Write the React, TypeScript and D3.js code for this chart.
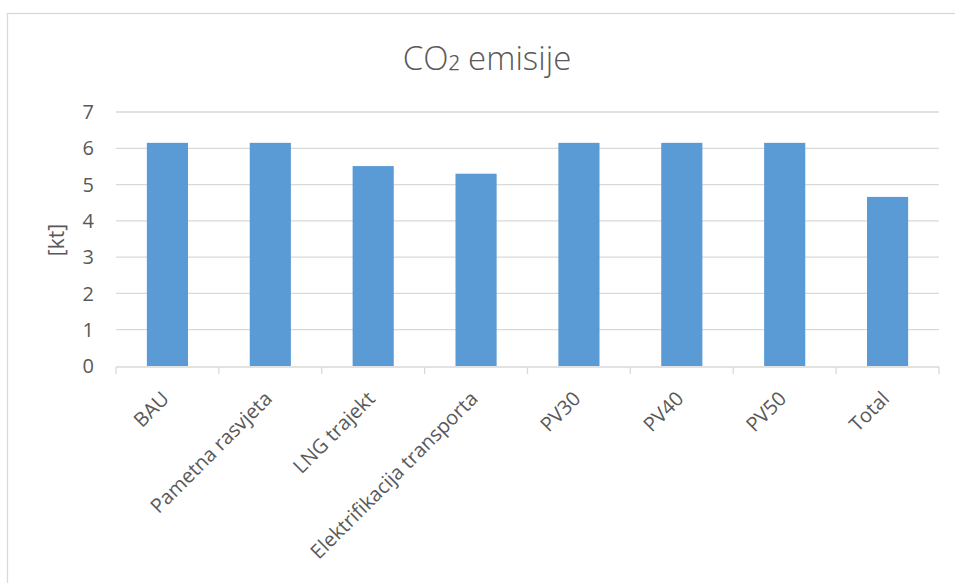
import React from "react";
import * as d3 from "d3";

const categories = ["BAU", "Pametna rasvjeta", "LNG trajekt", "Elektrifikacija transporta", "PV30", "PV40", "PV50", "Total"];
const values = [6.15, 6.15, 5.51, 5.30, 6.15, 6.15, 6.15, 4.66];
const yTicks = [0, 1, 2, 3, 4, 5, 6, 7];

const W = 955, H = 583;
const M = { left: 116, right: 939, top: 112, bottom: 366 };
const FONT = "'Open Sans', 'Liberation Sans', sans-serif";

export default function App() {
  const x = d3.scaleBand<string>().domain(categories).range([M.left, M.right]).paddingInner(0.6).paddingOuter(0.3);
  const xOuter = d3.scaleBand<string>().domain(categories).range([M.left, M.right]);
  const y = d3.scaleLinear().domain([0, 7]).range([M.bottom, M.top]);
  const boundaries = [...categories.map((c) => xOuter(c) as number), M.right];

  return (
    <svg width={W} height={H} style={{ position: "absolute", left: 0, top: 0 }}>
      <rect x={0} y={0} width={W} height={H} fill="#fff" />
      <rect x={7.5} y={13.5} width={W + 10} height={H} fill="#fff" stroke="#d9d9d9" strokeWidth={1.3} />
      <text x={487} y={70} textAnchor="middle" fontFamily={FONT} fontWeight={300} fontSize={33} fill="#595959">
        CO<tspan dy={-4}>₂</tspan><tspan dy={4}> emisije</tspan>
      </text>
      {yTicks.map((t) => (
        <g key={t}>
          {t > 0 && <line x1={M.left} x2={M.right} y1={y(t)} y2={y(t)} stroke="#d9d9d9" strokeWidth={1.3} />}
          <text x={94} y={y(t)} dy="0.36em" textAnchor="end" fontFamily={FONT} fontSize={20} fill="#595959">
            {t}
          </text>
        </g>
      ))}
      <text transform={`translate(64, 240) rotate(-90)`} textAnchor="middle" fontFamily={FONT} fontSize={21} fill="#595959">
        [kt]
      </text>
      {categories.map((c, i) => (
        <rect key={c} x={x(c)} y={y(values[i])} width={x.bandwidth()} height={y(0) - y(values[i])} fill="#5b9bd5" />
      ))}
      <line x1={M.left} x2={M.right} y1={M.bottom + 1} y2={M.bottom + 1} stroke="#d9d9d9" strokeWidth={1.3} />
      {boundaries.map((b, i) => (
        <line key={i} x1={b} x2={b} y1={M.bottom + 1} y2={M.bottom + 8} stroke="#d9d9d9" strokeWidth={1.3} />
      ))}
      {categories.map((c) => {
        const cx = (xOuter(c) as number) + xOuter.bandwidth() / 2 + 3;
        return (
          <text key={c} transform={`translate(${cx}, ${M.bottom + 34}) rotate(-45)`} textAnchor="end" fontFamily={FONT} fontSize={20} fill="#595959">
            {c}
          </text>
        );
      })}
    </svg>
  );
}
